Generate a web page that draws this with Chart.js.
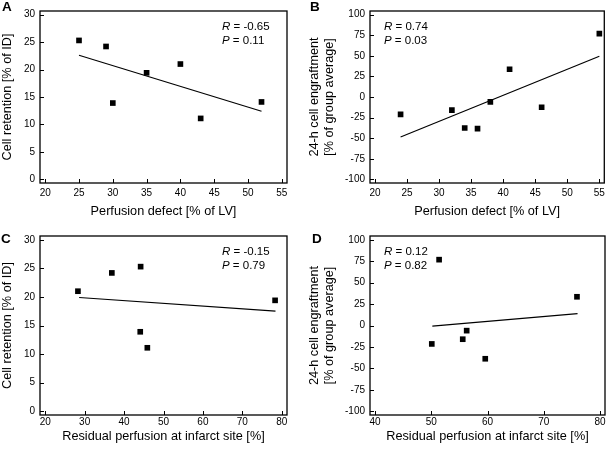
<!DOCTYPE html>
<html>
<head>
<meta charset="utf-8">
<script src="https://cdn.jsdelivr.net/npm/chart.js@4"></script>
<style>
  html, body { margin: 0; padding: 0; background: #fff; }
  body { width: 609px; height: 450px; position: relative; overflow: hidden; }
  canvas { position: absolute; }
</style>
</head>
<body>
<canvas id="pA" style="left:0;top:0"></canvas>
<canvas id="pB" style="left:305px;top:0"></canvas>
<canvas id="pC" style="left:0;top:225px"></canvas>
<canvas id="pD" style="left:305px;top:225px"></canvas>
<script>
// Scatter panels with least-squares lines.
const FONT = "'Liberation Sans', Arial, sans-serif";

// A: perfusion defect vs cell retention
const defectA = [25, 29, 30, 35, 40, 43, 52];
const retentionA = [25.3, 24.2, 13.9, 19.4, 21.0, 11.1, 14.1];
const fitXA = [25, 52];
const fitYA = [22.6, 12.4];

// B: perfusion defect vs 24-h engraftment
const defectB = [24, 32, 34, 36, 38, 41, 46, 55];
const engraftB = [-21, -16, -37.6, -38.4, -6, 33.7, -12.4, 77];
const fitXB = [24, 55];
const fitYB = [-48.5, 49.5];

// C: residual perfusion vs cell retention
const residualC = [28.3, 36.9, 44.2, 44.1, 45.9, 78.3];
const retentionC = [21.0, 24.2, 25.3, 13.9, 11.1, 19.4];
const fitXC = [28.6, 78.4];
const fitYC = [19.9, 17.5];

// D: residual perfusion vs 24-h engraftment
const residualD = [50.1, 51.4, 55.6, 56.3, 59.6, 75.9];
const engraftD = [-21.5, 76.8, -16, -6, -38.8, 33.5];
const fitXD = [50.2, 76.0];
const fitYD = [-0.7, 13.9];

const ticksDefect = [20, 25, 30, 35, 40, 45, 50, 55];
const ticksResidualC = [20, 30, 40, 50, 60, 70, 80];
const ticksResidualD = [40, 50, 60, 70, 80];
const ticksRetention = [0, 5, 10, 15, 20, 25, 30];
const ticksEngraft = [-100, -75, -50, -25, 0, 25, 50, 75, 100];

const titleDefect = "Perfusion defect [% of LV]";
const titleResidual = "Residual perfusion at infarct site [%]";
const titleRetention = "Cell retention [% of ID]";
const titleEngraft = ["24-h cell engraftment", "[% of group average]"];

const stats = {
  A: ["-0.65", "0.11"],
  B: ["0.74", "0.03"],
  C: ["-0.15", "0.79"],
  D: ["0.12", "0.82"],
};

function pairs(xs, ys) {
  return xs.map((x, i) => ({ x, y: ys[i] }));
}

// frame, inward tick marks, panel letter and R / P text
const framePlugin = {
  id: "frame",
  afterDraw(chart, args, opts) {
    const { ctx, chartArea: a, scales } = chart;
    const x = scales.x, y = scales.y;
    ctx.save();
    ctx.strokeStyle = "#000";
    ctx.lineWidth = 1.3;
    ctx.strokeRect(a.left, a.top, a.right - a.left, a.bottom - a.top);
    ctx.beginPath();
    ctx.lineWidth = 1;
    x.ticks.forEach((t) => {
      const px = Math.round(x.getPixelForValue(t.value)) + 0.5;
      ctx.moveTo(px, a.bottom);
      ctx.lineTo(px, a.bottom - 4);
    });
    y.ticks.forEach((t) => {
      const py = Math.round(y.getPixelForValue(t.value)) + 0.5;
      ctx.moveTo(a.left, py);
      ctx.lineTo(a.left + 4, py);
    });
    ctx.stroke();

    ctx.fillStyle = "#000";
    ctx.textBaseline = "top";
    ctx.font = "bold 13.5px " + FONT;
    ctx.fillText(opts.letter, opts.letterX, opts.letterY);

    ctx.textBaseline = "middle";
    const sx = a.left + opts.statX;
    const rows = [["R", " = " + opts.r], ["P", " = " + opts.p]];
    rows.forEach((row, i) => {
      const sy = a.top + opts.statY + i * 14;
      ctx.font = "italic 11.5px " + FONT;
      ctx.fillText(row[0], sx, sy);
      const w = ctx.measureText(row[0]).width;
      ctx.font = "11.5px " + FONT;
      ctx.fillText(row[1], sx + w, sy);
    });
    ctx.restore();
  },
};

function padRange(ticks) {
  const lo = ticks[0], hi = ticks[ticks.length - 1];
  const pad = (hi - lo) * 0.022;
  return [lo - pad, hi + pad];
}

function makePanel(id, o) {
  const canvas = document.getElementById(id);
  canvas.width = o.w;
  canvas.height = 225;
  canvas.style.width = o.w + "px";
  canvas.style.height = "225px";
  const [xmin, xmax] = padRange(o.xTicks);
  const [ymin, ymax] = padRange(o.yTicks);
  return new Chart(canvas, {
    type: "scatter",
    data: {
      datasets: [
        {
          data: pairs(o.xs, o.ys),
          pointStyle: "rect",
          pointRadius: 4,
          pointBorderWidth: 0,
          backgroundColor: "#000",
          borderColor: "#000",
        },
        {
          data: pairs(o.fitX, o.fitY),
          showLine: true,
          pointRadius: 0,
          borderColor: "#000",
          borderWidth: 1.2,
        },
      ],
    },
    options: {
      responsive: false,
      animation: false,
      events: [],
      layout: { padding: { top: o.top, right: o.right, left: 0, bottom: 0 } },
      plugins: {
        legend: { display: false },
        tooltip: { enabled: false },
        frame: {
          letter: o.letter, letterX: o.letterX, letterY: o.letterY,
          r: stats[o.letter][0], p: stats[o.letter][1],
          statX: o.statX, statY: 16,
        },
      },
      scales: {
        x: {
          type: "linear",
          min: xmin,
          max: xmax,
          afterBuildTicks: (s) => { s.ticks = o.xTicks.map((v) => ({ value: v })); },
          afterFit: (s) => { s.height = 225 - o.bottom; },
          grid: { display: false, drawTicks: false },
          border: { display: false },
          ticks: { color: "#000", font: { size: 10, family: FONT }, padding: o.xTickPad, maxRotation: 0, autoSkip: false },
          title: {
            display: true, text: o.xTitle, color: "#000",
            font: { size: 12.7, family: FONT }, padding: { top: 0, bottom: o.xTitlePad },
          },
        },
        y: {
          type: "linear",
          min: ymin,
          max: ymax,
          afterBuildTicks: (s) => { s.ticks = o.yTicks.map((v) => ({ value: v })); },
          afterFit: (s) => { s.width = o.left; },
          grid: { display: false, drawTicks: false },
          border: { display: false },
          ticks: { color: "#000", font: { size: 10, family: FONT }, padding: 5, autoSkip: false },
          title: {
            display: true, text: o.yTitle, color: "#000",
            font: { size: 12.7, family: FONT, lineHeight: 1.15 }, padding: { top: o.yTitlePad, bottom: 0 },
          },
        },
      },
    },
    plugins: [framePlugin],
  });
}

makePanel("pA", {
  w: 305, left: 40, right: 18, top: 3, bottom: 183,
  xs: defectA, ys: retentionA, fitX: fitXA, fitY: fitYA,
  xTicks: ticksDefect, yTicks: ticksRetention,
  xTitle: titleDefect, yTitle: titleRetention, xTickPad: 4, xTitlePad: 6, yTitlePad: 0,
  letter: "A", letterX: 2, letterY: 1, statX: 182,
});
makePanel("pB", {
  w: 304, left: 65, right: 1.5, top: 3, bottom: 183,
  xs: defectB, ys: engraftB, fitX: fitXB, fitY: fitYB,
  xTicks: ticksDefect, yTicks: ticksEngraft,
  xTitle: titleDefect, yTitle: titleEngraft, xTickPad: 4, xTitlePad: 6, yTitlePad: 2.5,
  letter: "B", letterX: 5, letterY: 1, statX: 14,
});
makePanel("pC", {
  w: 305, left: 40, right: 18, top: 10, bottom: 190,
  xs: residualC, ys: retentionC, fitX: fitXC, fitY: fitYC,
  xTicks: ticksResidualC, yTicks: ticksRetention,
  xTitle: titleResidual, yTitle: titleRetention, xTickPad: 1.5, xTitlePad: 6, yTitlePad: 0,
  letter: "C", letterX: 1, letterY: 8, statX: 182,
});
makePanel("pD", {
  w: 304, left: 65, right: 1.5, top: 10, bottom: 190,
  xs: residualD, ys: engraftD, fitX: fitXD, fitY: fitYD,
  xTicks: ticksResidualD, yTicks: ticksEngraft,
  xTitle: titleResidual, yTitle: titleEngraft, xTickPad: 1.5, xTitlePad: 6, yTitlePad: 2.5,
  letter: "D", letterX: 7, letterY: 8, statX: 14,
});
</script>
</body>
</html>
